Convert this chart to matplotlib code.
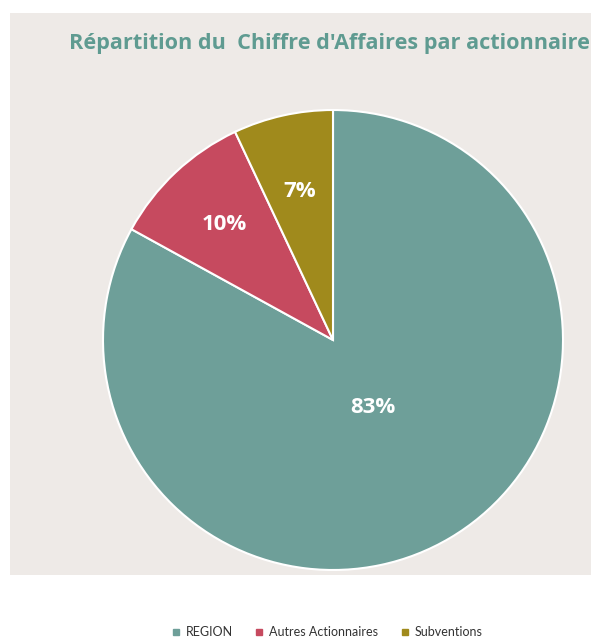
import numpy as np
import matplotlib.pyplot as plt
from matplotlib.patches import Rectangle
from matplotlib.lines import Line2D

# Data
labels = ['REGION', 'Autres Actionnaires', 'Subventions']
values = [83, 10, 7]
colors = ['#6e9f99', '#c64a5f', '#a08a1c']
pct_dist = [0.34, 0.69, 0.66]

fig = plt.figure(figsize=(5.91, 6.43), dpi=100)

# grey card behind the chart
fig.patches.append(Rectangle((10/591, 68/643), 1 - 10/591, 562/643,
                             transform=fig.transFigure, facecolor='#eeeae7',
                             edgecolor='none', zorder=-5))

ax = fig.add_axes([103/591, 73/643, 460/591, 460/643])
ax.set_facecolor('none')
wedges, texts, autotexts = ax.pie(values, colors=colors, startangle=90,
                                  counterclock=False, autopct='%d%%',
                                  wedgeprops=dict(edgecolor='white', linewidth=1.5),
                                  textprops=dict(color='white', fontsize=16,
                                                 fontweight='bold', family='Open Sans'))
for w, t, d in zip(wedges, autotexts, pct_dist):
    ang = np.deg2rad((w.theta1 + w.theta2) / 2)
    t.set_position((d * np.cos(ang), d * np.sin(ang)))
ax.set_xlim(-1, 1)
ax.set_ylim(-1, 1)
ax.set_aspect('equal')

fig.text(329/591, 1 - 43/643, "Répartition du  Chiffre d'Affaires par actionnaire",
         ha='center', va='center', fontsize=15.6, fontweight='bold',
         color='#5f9b91', family='Open Sans')

handles = [Line2D([], [], marker='s', linestyle='none', markersize=4,
                  markerfacecolor=c, markeredgecolor=c) for c in colors]
fig.legend(handles, labels, loc='center', bbox_to_anchor=(326/591, 1 - 632/643),
           ncol=3, frameon=False, handletextpad=0.3, handlelength=1.0,
           columnspacing=1.6, labelcolor='#333333',
           prop=dict(family='Lato', size=9))

fig.savefig('out.png', dpi=100)
